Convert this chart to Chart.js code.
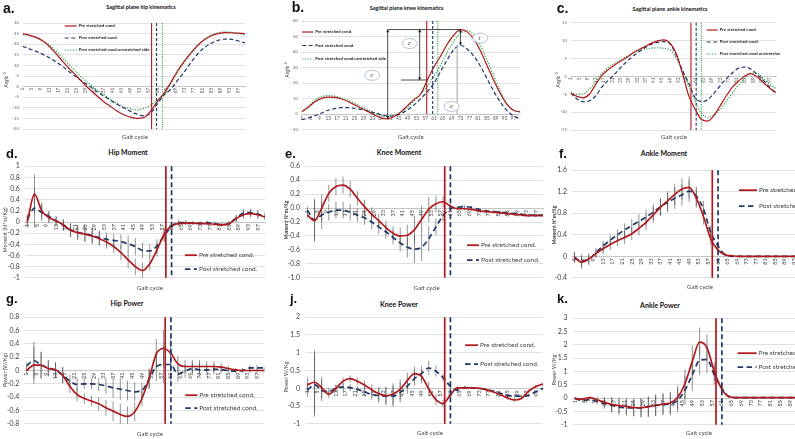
<!DOCTYPE html>
<html>
<head>
<meta charset="utf-8">
<script src="https://cdn.jsdelivr.net/npm/chart.js@4.4.0/dist/chart.umd.min.js"></script>
<style>
  html, body { margin: 0; padding: 0; background: #fff; overflow: hidden; }
  #fig { position: relative; width: 795px; height: 439px; overflow: hidden; background: #fff; }
  #fig canvas { position: absolute; }
  .lbl { position: absolute; white-space: nowrap; line-height: 1; z-index: 3; font-family: Lato, "Liberation Sans", sans-serif; }
</style>
</head>
<body>
<div id="fig"></div>
<script>
// gait cycle samples (%) and the printed category labels
const gait = [1,4,7,10,13,16,19,22,25,28,31,34,37,40,43,46,49,52,55,58,61,64,67,70,73,76,79,82,85,88,91,94,97,100];
const gaitTicks = [1,5,9,13,17,21,25,29,33,37,41,45,49,53,57,61,65,69,73,77,81,85,89,93,97];
const seriesNames = ['Pre stretched cond.', 'Post stretched cond.', 'Post stretched cond.unstretched side'];

// a. hip angle (deg)
const hipAnglePre   = [25,24.3,23.2,21.5,18.8,15.3,11.7,8.2,5,1.6,-1.5,-4.3,-7,-9.3,-11.5,-13.3,-14.4,-15,-14.6,-11.5,-7,-3,2,7.5,12,16,19.5,22.2,24,25,25.5,25.4,25.2,25];
const hipAnglePost  = [19,17.8,16.6,15.2,13.5,11.5,9.3,6.8,4.4,2.2,0,-2.3,-4.4,-6.4,-8.3,-10,-11.7,-13,-13.8,-12.5,-8,-4,-1.2,3,7,11.5,15.5,18.5,20.5,21.8,22.4,22.3,21.5,20.6];
const hipAngleUnstr = [24.4,24,23,21.5,19.5,16.5,13.3,10,6.6,3.7,1,-1.3,-3.6,-6,-8,-9.5,-10.5,-11,-10.3,-8.8,-6.3,-3.5,1.5,6.8,11.5,15.6,19.3,22.3,24.3,25.4,25.8,25.6,25,24.5];
// b. knee angle (deg)
const kneeAnglePre   = [1.5,4.5,8,10.2,11,10.8,9.8,8.2,6,3.8,1.8,-0.5,-2.5,-3,-1.5,1.5,5.5,9.5,13,22,30.5,37.5,45,51,54.5,53,48.5,41,31.5,22,13.5,6.5,2.5,1.5];
const kneeAnglePost  = [-3.5,-2.5,-1,0.8,2.5,3.6,4.2,4.2,3.8,3,2,0.8,-0.3,-1.2,-1,0.3,2.8,6,10,14.5,20,27.5,35,41.5,44.4,42,37.5,31,23,15,8,2.5,-1,-3];
const kneeAngleUnstr = [1.5,5,9,11.3,12,11.6,10.5,9,7,4.8,2.8,0.8,-0.7,-1.3,-0.5,1.3,4.5,8.5,13,18,24.5,31.5,40,47,52,54,51,44.5,35,25,15,7,2.5,1.5];
// c. ankle angle (deg)
const ankleAnglePre   = [-4.7,-5.6,-6,-5,-2.3,0.2,1.8,3.1,4.2,5.3,6.5,7.5,8.4,9.3,9.9,10.2,9.2,6.2,0.6,-5.5,-9.2,-12,-12.5,-11,-8.3,-5.5,-3,-1.3,0.1,0.75,-0.2,-1.8,-3.3,-4.5];
const ankleAnglePost  = [-4.7,-6.3,-7.1,-6.8,-5.5,-3,-1.2,0.5,2.4,4.1,5.6,6.9,8.1,9,9.5,9.7,9,5.7,1.5,-2,-6,-7,-6.6,-4.8,-2.7,-0.7,1,2.3,2.6,2,0.5,-1.2,-3,-5];
const ankleAngleUnstr = [-4.5,-5,-4.8,-3.6,-1.5,0.8,2.4,3.6,4.5,5.6,6.5,7.2,7.6,7.9,8,7.8,7.3,5,1.5,-2.8,-7,-10.3,-11.5,-10.8,-9.2,-7,-4.7,-2.4,-0.5,0.9,0.8,-0.6,-2.2,-3.4];
// d. hip moment (N*m/kg)
const hipMomPre  = [0,0.5,0.2,0.08,0.02,-0.05,-0.15,-0.19,-0.22,-0.25,-0.3,-0.36,-0.44,-0.55,-0.68,-0.8,-0.87,-0.75,-0.5,-0.22,-0.07,-0.03,-0.02,-0.02,-0.03,-0.03,-0.04,-0.05,-0.03,0.06,0.13,0.15,0.13,0.09];
const hipMomPost = [0.05,0.25,0.17,0.1,0.02,-0.06,-0.14,-0.19,-0.21,-0.24,-0.28,-0.31,-0.33,-0.35,-0.39,-0.44,-0.51,-0.52,-0.43,-0.24,-0.09,-0.01,-0.01,-0.02,-0.02,-0.01,-0.03,-0.05,-0.02,0.07,0.16,0.17,0.14,0.11];
const hipMomSd   = [0.1,0.35,0.15,0.1,0.08,0.1,0.12,0.13,0.14,0.14,0.13,0.12,0.12,0.13,0.15,0.15,0.14,0.12,0.12,0.12,0.08,0.04,0.04,0.03,0.03,0.03,0.03,0.03,0.04,0.06,0.07,0.07,0.07,0.06];
// e. knee moment
const kneeMomPre  = [-0.1,-0.18,0,0.21,0.31,0.33,0.27,0.14,0.02,-0.09,-0.18,-0.28,-0.36,-0.4,-0.39,-0.31,-0.16,-0.02,0.06,0.09,0.03,-0.01,-0.01,-0.02,-0.04,-0.05,-0.06,-0.07,-0.08,-0.09,-0.1,-0.11,-0.11,-0.11];
const kneeMomPost = [-0.03,-0.17,-0.1,-0.06,-0.03,-0.03,-0.06,-0.1,-0.14,-0.2,-0.27,-0.34,-0.42,-0.5,-0.56,-0.59,-0.56,-0.44,-0.27,-0.11,-0.01,0.01,0.02,0.01,-0.02,-0.04,-0.05,-0.06,-0.07,-0.08,-0.09,-0.1,-0.1,-0.1];
const kneeMomSd   = [0.05,0.3,0.2,0.12,0.12,0.12,0.12,0.1,0.1,0.1,0.1,0.1,0.1,0.12,0.15,0.2,0.2,0.18,0.12,0.08,0.04,0.02,0.02,0.02,0.02,0.02,0.02,0.02,0.02,0.02,0.02,0.02,0.02,0.02];
// f. ankle moment
const ankleMomPre  = [-0.02,-0.11,-0.05,0.05,0.14,0.22,0.29,0.35,0.42,0.52,0.63,0.77,0.91,1.03,1.15,1.25,1.28,1.08,0.74,0.33,0.12,0.03,0.01,0,0,0,0,0,0,0,0,0,0,0];
const ankleMomPost = [-0.02,-0.09,-0.06,0.07,0.19,0.3,0.4,0.49,0.57,0.65,0.73,0.82,0.92,1,1.08,1.14,1.21,1.12,0.88,0.45,0.2,0.03,0,0,0,0,0,0,0,0,0,0,0,0];
const ankleMomSd   = [0.1,0.12,0.1,0.08,0.1,0.1,0.1,0.12,0.12,0.13,0.14,0.15,0.16,0.18,0.2,0.2,0.2,0.18,0.15,0.12,0.08,0.03,0.01,0.01,0.01,0.01,0.01,0.01,0.01,0.01,0.01,0.01,0.01,0.01];
// g. hip power (W/kg)
const hipPowPre  = [0,0.08,0.08,0.03,0.01,-0.07,-0.24,-0.36,-0.42,-0.46,-0.5,-0.56,-0.61,-0.66,-0.69,-0.62,-0.42,-0.12,0.25,0.33,0.26,0.1,0.06,0.06,0.06,0.06,0.06,0.05,0.03,0.01,0,0,0,0];
const hipPowPost = [0.07,0.15,0.08,0.04,0,-0.07,-0.16,-0.21,-0.2,-0.2,-0.21,-0.23,-0.26,-0.28,-0.3,-0.32,-0.3,-0.13,0.06,0.09,0.09,-0.05,-0.01,0.03,0.01,0.01,0.02,0.01,0,-0.01,0,0.04,0.04,0.04];
const hipPowSd   = [0.05,0.28,0.2,0.12,0.12,0.12,0.1,0.1,0.08,0.08,0.1,0.12,0.15,0.16,0.15,0.14,0.12,0.15,0.22,0.28,0.25,0.12,0.1,0.1,0.1,0.08,0.08,0.06,0.04,0.03,0.03,0.04,0.04,0.04];
// j. knee power
const kneePowPre  = [0.1,0.17,0.02,-0.17,0,0.2,0.27,0.2,0.09,-0.04,-0.15,-0.21,-0.16,-0.03,0.22,0.41,0.33,-0.02,-0.32,-0.43,-0.2,0.01,0.01,0.01,0,-0.04,-0.1,-0.18,-0.27,-0.33,-0.28,-0.08,0.05,0.12];
const kneePowPost = [-0.05,0.1,-0.06,-0.09,0,0.04,0.02,-0.03,-0.1,-0.17,-0.21,-0.22,-0.22,-0.12,0.06,0.27,0.42,0.57,0.48,0.3,0.06,-0.05,0.02,0.01,0,-0.03,-0.08,-0.14,-0.2,-0.22,-0.22,-0.2,-0.1,0];
const kneePowSd   = [0.2,0.9,0.3,0.1,0.1,0.1,0.1,0.1,0.12,0.15,0.2,0.25,0.3,0.28,0.22,0.2,0.2,0.2,0.15,0.1,0.08,0.05,0.04,0.03,0.03,0.03,0.03,0.04,0.05,0.05,0.05,0.05,0.05,0.05];
// k. ankle power
const anklePowPre  = [-0.02,-0.04,0.02,-0.06,-0.16,-0.24,-0.28,-0.31,-0.35,-0.36,-0.33,-0.27,-0.22,-0.18,0.03,0.54,1.38,2.1,1.9,1,0.35,0.06,0.02,0.02,0.02,0.02,0.02,0.02,0.02,0.02,0.02,0.02,0.02,0.02];
const anklePowPost = [0,-0.09,-0.06,-0.12,-0.2,-0.27,-0.34,-0.36,-0.37,-0.37,-0.31,-0.27,-0.24,-0.22,-0.08,0.3,0.87,1.42,1.45,0.87,0.39,0.06,0.02,0.02,0.02,0.02,0.02,0.02,0.02,0.02,0.02,0.02,0.02,0.02];
const anklePowSd   = [0.05,0.05,0.05,0.1,0.2,0.28,0.3,0.3,0.32,0.35,0.38,0.4,0.4,0.42,0.45,0.55,0.6,0.55,0.5,0.35,0.2,0.05,0.02,0.02,0.02,0.02,0.02,0.02,0.02,0.02,0.02,0.02,0.02,0.02];

// toe-off (% gait cycle): pre, post, unstretched side
const hipAngleToeOff   = [58.4, 60.6, 63.2];
const kneeAngleToeOff  = [57.7, 60.4, 62.7];
const ankleAngleToeOff = [59, 61.5, 64];
const kineticToeOff    = [58.7, 61.1];

// circled labels in panel b: text, gait %, angle
const kneeNotes = [['1*', 82, 49], ['2*', 50, 45.5], ['3*', 33, 25], ['4*', 69, 5]];

const family = 'Lato, "Liberation Sans", sans-serif';
const RED = '#B0191E', BLUE = '#1F3864', GREEN = '#2E9E4A';
Chart.defaults.font.family = family;
const fig = document.getElementById('fig');

function series(i, arr, big, sd) {
  const colors = [RED, BLUE, GREEN];
  const dashes = big ? [[], [5.5, 3.5]] : [[], [4, 2.5], [1.2, 1.5]];
  return {
    label: seriesNames[i],
    data: gait.map((g, k) => ({ x: g, y: arr[k] })),
    borderColor: colors[i],
    borderWidth: big ? 1.7 : 1.2,
    borderDash: dashes[i],
    pointRadius: 0,
    fill: false,
    cubicInterpolationMode: 'monotone',
    sd: sd
  };
}

function drawErrorBars(chart) {
  const { ctx, chartArea: ca, scales: { y } } = chart;
  ctx.save();
  ctx.beginPath(); ctx.rect(ca.left, ca.top, ca.right - ca.left, ca.bottom - ca.top); ctx.clip();
  ctx.strokeStyle = 'rgba(60,60,60,0.55)';
  ctx.lineWidth = 1;
  chart.data.datasets.forEach((d, i) => {
    if (!d.sd) return;
    chart.getDatasetMeta(i).data.forEach((pt, j) => {
      const v = d.data[j].y, s = d.sd[j];
      ctx.beginPath();
      ctx.moveTo(pt.x, y.getPixelForValue(v - s));
      ctx.lineTo(pt.x, y.getPixelForValue(v + s));
      ctx.stroke();
    });
  });
  ctx.restore();
}

function drawToeLines(chart, p) {
  const { ctx, chartArea: ca, scales: { x, y } } = chart;
  const bottom = p.toeFloor === undefined ? ca.bottom : y.getPixelForValue(p.toeFloor);
  const dashes = p.big ? [[], [5, 3]] : [[], [3, 2], [1, 1.2]];
  ctx.save();
  p.toe.forEach((g, i) => {
    const px = x.getPixelForValue(g);
    ctx.beginPath();
    ctx.strokeStyle = chart.data.datasets[i].borderColor;
    ctx.lineWidth = p.big ? 1.7 : 1.1;
    ctx.setLineDash(dashes[i]);
    ctx.moveTo(px, ca.top);
    ctx.lineTo(px, bottom);
    ctx.stroke();
  });
  ctx.restore();
}

function arrowHead(ctx, x, y, dir) {
  ctx.beginPath();
  ctx.moveTo(x, y);
  ctx.lineTo(x - 1.5, y - dir * 2.6);
  ctx.lineTo(x + 1.5, y - dir * 2.6);
  ctx.closePath();
  ctx.fill();
}

function drawKneeNotes(chart) {
  const { ctx, scales: { x, y } } = chart;
  const X = v => x.getPixelForValue(v), Y = v => y.getPixelForValue(v);
  const peak = Math.max(...kneeAnglePre), low = Math.min(...kneeAnglePre);
  const postPeak = Math.max(...kneeAnglePost);
  const gLow = gait[kneeAnglePre.indexOf(low)], gPeak = gait[kneeAnglePre.indexOf(peak)];
  const atToeOff = kneeAnglePre[gait.indexOf(58)];
  ctx.save();
  // 4*: grey drop line from the post peak
  ctx.strokeStyle = '#bdbdbd'; ctx.lineWidth = 1.4;
  ctx.beginPath(); ctx.moveTo(X(71.5), Y(postPeak)); ctx.lineTo(X(71.5), Y(0)); ctx.stroke();
  ctx.strokeStyle = '#222'; ctx.fillStyle = '#111'; ctx.lineWidth = 0.8;
  ctx.beginPath(); ctx.moveTo(X(gLow), Y(peak)); ctx.lineTo(X(gPeak), Y(peak)); ctx.stroke();
  ctx.beginPath(); ctx.moveTo(X(46), Y(atToeOff)); ctx.lineTo(X(kneeAngleToeOff[0]), Y(atToeOff)); ctx.stroke();
  const arrows = [[gLow, peak, low], [54.5, peak, atToeOff], [gPeak, peak, postPeak]];
  arrows.forEach(([g, a, b]) => {
    ctx.beginPath(); ctx.moveTo(X(g), Y(a)); ctx.lineTo(X(g), Y(b)); ctx.stroke();
    arrowHead(ctx, X(g), Y(a), -1);
    arrowHead(ctx, X(g), Y(b), 1);
  });
  kneeNotes.forEach(([t, g, v]) => {
    ctx.beginPath();
    ctx.ellipse(X(g), Y(v), 7.5, 5, 0, 0, Math.PI * 2);
    ctx.fillStyle = '#fff'; ctx.fill();
    ctx.strokeStyle = '#9fb4c8'; ctx.lineWidth = 0.8; ctx.stroke();
    ctx.fillStyle = '#333'; ctx.font = `4.5px ${family}`;
    ctx.textAlign = 'center'; ctx.textBaseline = 'middle';
    ctx.fillText(t, X(g), Y(v));
  });
  ctx.restore();
}

function drawLegend(chart, p) {
  const { ctx, chartArea: ca } = chart;
  const L = p.legend;
  ctx.save();
  chart.data.datasets.forEach((d, i) => {
    const x = ca.left + L.dx, yy = ca.top + L.dy + i * L.gap;
    ctx.beginPath();
    ctx.setLineDash(d.borderDash || []);
    ctx.strokeStyle = d.borderColor;
    ctx.lineWidth = p.big ? 1.8 : 1.2;
    ctx.moveTo(x, yy); ctx.lineTo(x + L.len, yy); ctx.stroke();
    ctx.setLineDash([]);
    ctx.fillStyle = p.big ? '#404040' : '#262626';
    ctx.font = p.big ? `6.5px ${family}` : `bold 4.3px ${family}`;
    ctx.textBaseline = 'middle';
    ctx.fillText(d.label, x + L.len + 2, yy);
  });
  ctx.restore();
}

function buildChart(p) {
  const [l, t, r, b] = p.box;
  const left = Math.floor(l - p.yW), top = Math.floor(t - 7);
  const W = Math.ceil(r + 4) - left, H = Math.ceil(b + 7) - top;
  const yW = l - left, padT = t - top, padR = left + W - r, padB = top + H - b;
  const canvas = document.createElement('canvas');
  canvas.width = W; canvas.height = H;
  canvas.style.left = left + 'px'; canvas.style.top = top + 'px';
  canvas.style.width = W + 'px'; canvas.style.height = H + 'px';
  if (p.opaque) canvas.style.background = '#fff';
  fig.appendChild(canvas);

  const datasets = p.sets.map((arr, i) => series(i, arr, p.big, p.sd));
  new Chart(canvas, {
    type: 'line',
    data: { datasets },
    options: {
      responsive: false,
      animation: false,
      devicePixelRatio: 1,
      layout: { padding: { left: 0, top: padT, right: padR, bottom: padB } },
      plugins: { legend: { display: false }, tooltip: { enabled: false } },
      scales: {
        x: {
          type: 'linear', min: p.xmin, max: 100, position: { y: 0 },
          afterBuildTicks: ax => { ax.ticks = gaitTicks.map(v => ({ value: v })); },
          grid: { display: false, drawTicks: false },
          border: { display: true, color: '#bfbfbf', width: 0.8 },
          ticks: {
            autoSkip: false, minRotation: p.rot, maxRotation: p.rot,
            padding: p.big ? 2 : 1,
            color: p.big ? '#404040' : '#595959',
            font: { size: p.big ? 5.5 : 4.8 }
          }
        },
        y: {
          min: p.y[0], max: p.y[1],
          afterFit: s => { s.width = yW; },
          grid: { color: '#d9d9d9', lineWidth: 0.8, drawTicks: false },
          border: { display: false },
          ticks: {
            stepSize: p.y[2],
            padding: p.big ? 5 : 4,
            color: p.big ? '#404040' : '#595959',
            font: { size: p.big ? 7 : 4 },
            callback: p.fixed ? (v => v.toFixed(1)) : undefined
          }
        }
      }
    },
    plugins: [{
      id: 'panelDeco',
      beforeDatasetsDraw: c => drawErrorBars(c),
      afterDatasetsDraw: c => { drawToeLines(c, p); if (p.notes) drawKneeNotes(c); },
      afterDraw: c => drawLegend(c, p)
    }]
  });
}

const panels = [
  { box: [22.7, 23, 245, 129], yW: 20, y: [-20, 30, 5], xmin: 1, rot: 90, big: false,
    sets: [hipAnglePre, hipAnglePost, hipAngleUnstr], toe: hipAngleToeOff,
    legend: { dx: 42, dy: 3, gap: 12, len: 12 } },
  { box: [301.7, 21, 520, 129.7], yW: 14, y: [-10, 60, 10], xmin: 1, rot: 0, big: false,
    sets: [kneeAnglePre, kneeAnglePost, kneeAngleUnstr], toe: kneeAngleToeOff, toeFloor: 0, notes: true,
    legend: { dx: 0.5, dy: 11, gap: 13.5, len: 11 } },
  { box: [570.7, 22.7, 776, 130], yW: 14, y: [-15, 15, 5], xmin: 1, rot: 90, big: false,
    sets: [ankleAnglePre, ankleAnglePost, ankleAngleUnstr], toe: ankleAngleToeOff,
    legend: { dx: 136, dy: 7.3, gap: 12, len: 11 } },
  { box: [24.9, 164, 265, 280], yW: 24, y: [-1, 1, 0.2], xmin: 0, rot: 90, big: true,
    sets: [hipMomPre, hipMomPost], sd: hipMomSd, toe: kineticToeOff,
    legend: { dx: 160, dy: 89, gap: 14, len: 12 } },
  { box: [305, 164, 543, 280], yW: 30, y: [-1, 0.6, 0.2], xmin: 0, rot: 90, big: true, fixed: true,
    sets: [kneeMomPre, kneeMomPost], sd: kneeMomSd, toe: kineticToeOff,
    legend: { dx: 162, dy: 79, gap: 15, len: 12 } },
  { box: [572, 168.3, 811, 280], yW: 20, y: [-0.4, 1.6, 0.2], xmin: 0, rot: 90, big: true, opaque: true,
    sets: [ankleMomPre, ankleMomPost], sd: ankleMomSd, toe: kineticToeOff,
    legend: { dx: 167, dy: 20, gap: 16, len: 18 } },
  { box: [24.3, 315, 264.3, 426], yW: 24, y: [-0.8, 0.8, 0.2], xmin: 0, rot: 90, big: true,
    sets: [hipPowPre, hipPowPost], sd: hipPowSd, toe: kineticToeOff,
    legend: { dx: 161, dy: 78, gap: 13, len: 12 } },
  { box: [305, 315, 543, 426], yW: 30, y: [-1, 2, 0.5], xmin: 0, rot: 90, big: true,
    sets: [kneePowPre, kneePowPost], sd: kneePowSd, toe: kineticToeOff,
    legend: { dx: 160, dy: 28, gap: 19, len: 13 } },
  { box: [572.6, 316, 816.9, 426.7], yW: 20, y: [-1, 3, 0.5], xmin: 0, rot: 90, big: true, opaque: true,
    sets: [anklePowPre, anklePowPost], sd: anklePowSd, toe: kineticToeOff,
    legend: { dx: 165, dy: 35, gap: 14, len: 19 } }
];
panels.forEach(buildChart);

function addText(txt, x, y, o) {
  const d = document.createElement('div');
  d.className = 'lbl';
  d.textContent = txt;
  d.style.left = x + 'px';
  d.style.top = y + 'px';
  d.style.fontSize = o.size + 'px';
  d.style.color = o.color || '#262626';
  if (o.bold) d.style.fontWeight = 'bold';
  if (o.italic) d.style.fontStyle = 'italic';
  if (o.family) d.style.fontFamily = o.family;
  const tf = [];
  if (o.center) tf.push('translate(-50%,-50%)');
  if (o.rotate) tf.push('rotate(-90deg)');
  d.style.transform = tf.join(' ');
  fig.appendChild(d);
}

// panel titles
[['Sagittal plane hip kinematics', 141, 8.3, 5.5], ['Sagittal plane knee kinematics', 406.7, 8.7, 5.5],
 ['Sagittal plane ankle kinematics', 670, 10, 5.5], ['Hip Moment', 128, 152.3, 7], ['Knee Moment', 399, 152, 7],
 ['Ankle Moment', 664, 152.7, 7], ['Hip Power', 127, 303.3, 7], ['Knee Power', 399, 303.7, 7],
 ['Ankle Power', 660, 305, 7]].forEach(([t, x, y, s]) => addText(t, x, y, { size: s, bold: true, center: true, color: '#111' }));

// axis titles
[['Angle °', 6, 80, 5, 0, 1], ['Angle °', 287, 70, 5, 0, 1], ['Angle °', 558, 80, 5, 0, 1],
 ['Moment (N*m/Kg)', 6, 230, 5.5, 0, 0], ['Moment N*m/Kg', 286, 220, 5, 1, 0], ['Moment N*m/Kg', 554, 225, 5, 1, 0],
 ['Power (W/Kg)', 6, 370, 5.5, 0, 0], ['Power W/Kg', 287, 377, 5.5, 0, 0], ['Power W/Kg', 555, 370, 5.5, 0, 0]]
  .forEach(([t, x, y, s, bold, it]) => addText(t, x, y, { size: s, bold: !!bold, italic: !!it, center: true, rotate: true, color: '#404040' }));

[[135, 136.7], [410.8, 136.7], [674, 136.7], [150, 287.7], [426.7, 287.7], [700, 286.7], [150, 434], [430, 432.7], [699, 432.7]]
  .forEach(([x, y]) => addText('Gait cycle', x, y, { size: 6, center: true, color: '#404040' }));

// panel letters
[['a.', 3, 0.8, 14], ['b.', 291.7, -0.2, 14], ['c.', 556.7, 0.8, 14], ['d.', 6, 146.7, 13], ['e.', 285, 146.7, 13],
 ['f.', 559, 146.7, 13], ['g.', 6, 292.3, 13], ['j.', 290, 292.3, 13], ['k.', 557, 292.3, 13]]
  .forEach(([t, x, y, s]) => addText(t, x, y, { size: s, bold: true, family: '"Liberation Sans", Arial, sans-serif', color: '#111' }));
</script>
</body>
</html>
